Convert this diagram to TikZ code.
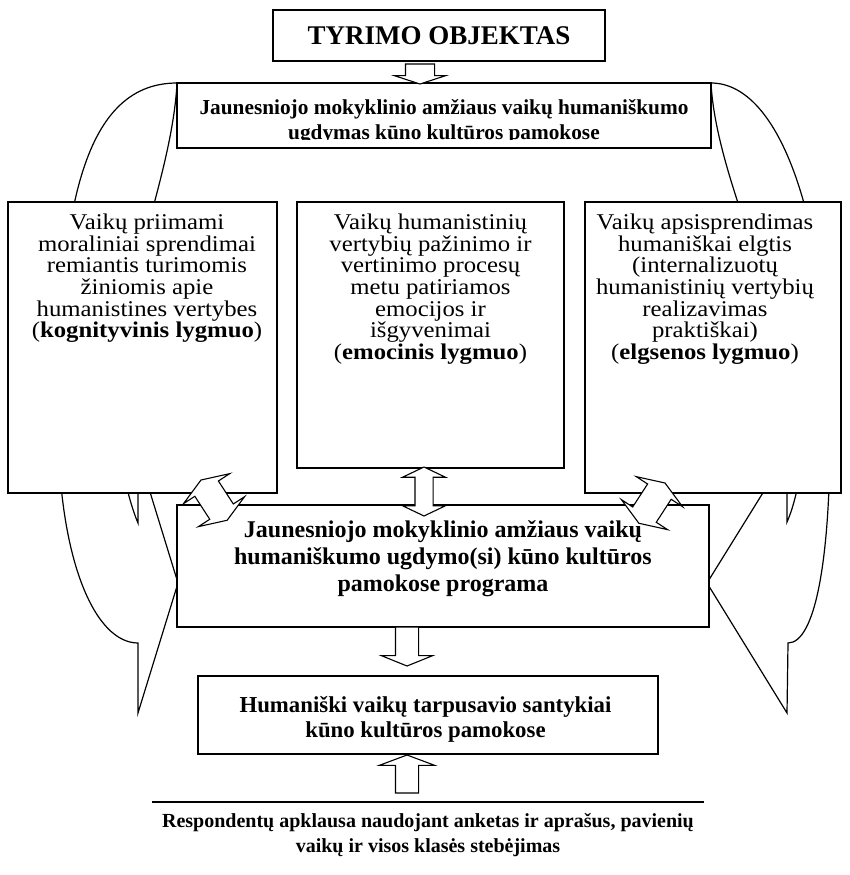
\documentclass[tikz,border=0pt]{standalone}
\usepackage{fontspec}
\setmainfont{Liberation Serif}
\newfontfamily\widefont{Liberation Serif}[FakeStretch=1.1]
\usetikzlibrary{calc,positioning,shapes.arrows}

\begin{document}
\begin{tikzpicture}[x=1pt,y=1pt,
  box/.style={draw,line width=1.4pt,fill=white,inner sep=0pt,outer sep=0pt},
  band/.style={draw,line width=1.2pt,fill=white},
  txt/.style={align=center,inner sep=0pt},
  lvl/.style={txt,font=\widefont\fontsize{22.5}{21.7}\selectfont},
  blk/.style={draw,fill=white,line width=1.1pt,inner xsep=0pt,outer sep=0pt,minimum width=0pt}]
\useasboundingbox (0,0) rectangle (849,-875);

\draw[band] (177,-83) .. controls (80,-83) and (58,-220) .. (58,-420)
  .. controls (58,-560) and (95,-643) .. (138,-643)
  -- (138,-713) -- (178,-583) -- (138,-453) -- (138,-523)
  .. controls (130,-505) and (115,-450) .. (115,-400)
  .. controls (115,-300) and (172,-180) .. (177,-83) -- cycle;
\draw[band] (711,-83) .. controls (780,-83) and (828,-220) .. (830,-420)
  .. controls (831,-560) and (815,-643) .. (788,-643)
  -- (787,-713) -- (707,-583) -- (787,-454) -- (787,-522)
  .. controls (797,-500) and (807,-450) .. (802,-410)
  .. controls (790,-320) and (716,-180) .. (711,-83) -- cycle;

\node[box,minimum width=332,minimum height=51,font=\bfseries\fontsize{27}{30}\selectfont] (title) at (439,-35.5) {TYRIMO OBJEKTAS};
\node[box,minimum width=534,minimum height=65] (top) at (444,-115.5) {};
\node[box,minimum width=269,minimum height=291] (left) at (142.5,-347.5) {};
\node[box,minimum width=267,minimum height=266] (mid) at (430.5,-335) {};
\node[box,minimum width=256,minimum height=291] (right) at (713,-347.5) {};
\node[box,minimum width=532,minimum height=122] (prog) at (443,-566) {};
\node[box,minimum width=460,minimum height=78] (hum) at (428,-715) {};

\begin{scope}
\clip (177,-83) rectangle (711,-139);
\node[txt,font=\bfseries\fontsize{21.3}{25}\selectfont,below=16.5pt of top.north] (toptxt) {Jaunesniojo mokyklinio amžiaus vaikų humaniškumo\\ugdymas kūno kultūros pamokose};
\end{scope}
\node[lvl,below=11.6pt of left.north,xshift=4.5pt] (lefttxt) {Vaikų priimami\\moraliniai sprendimai\\remiantis turimomis\\žiniomis apie\\humanistines vertybes\\(\textbf{kognityvinis lygmuo})};
\node[lvl,below=11.6pt of mid.north] (midtxt) {Vaikų humanistinių\\vertybių pažinimo ir\\vertinimo procesų\\metu patiriamos\\emocijos ir\\išgyvenimai\\(\textbf{emocinis lygmuo})};
\node[lvl,below=11.6pt of right.north,xshift=-8pt] (righttxt) {Vaikų apsisprendimas\\humaniškai elgtis\\(internalizuotų\\humanistinių vertybių\\realizavimas\\praktiškai)\\(\textbf{elgsenos lygmuo})};
\node[txt,font=\bfseries\fontsize{24}{26.7}\selectfont,below=15.8pt of prog.north] (progtxt) {Jaunesniojo mokyklinio amžiaus vaikų\\humaniškumo ugdymo(si) kūno kultūros\\pamokose programa};
\node[txt,font=\bfseries\fontsize{22.8}{25}\selectfont,below=20.6pt of hum.north,xshift=-2.5pt] (humtxt) {Humaniški vaikų tarpusavio santykiai\\kūno kultūros pamokose};

\coordinate (respL) at (152,-802);
\coordinate (respR) at (704,-802);
\coordinate (respM) at (428,-802);
\draw[line width=1.4pt] (respL) -- (respR);
\node[txt,font=\bfseries\fontsize{20}{25}\selectfont,below=11.5pt of respM] (resptxt) {Respondentų apklausa naudojant anketas ir aprašus, pavienių\\vaikų ir visos klasės stebėjimas};

\node[blk,single arrow,rotate=-90,anchor=tip,minimum height=20,inner ysep=14,single arrow head extend=11,single arrow tip angle=144] (a0) at (420,-84) {};
\node[blk,single arrow,rotate=-90,anchor=tip,minimum height=39,inner ysep=11,single arrow head extend=14,single arrow tip angle=136] (a1) at (407,-666) {};
\node[blk,single arrow,rotate=90,anchor=tip,minimum height=38,inner ysep=11,single arrow head extend=16,single arrow tip angle=139] (a2) at (407,-755) {};
\node[blk,double arrow,rotate=90,anchor=tip 1,minimum height=49,inner ysep=8.5,double arrow head extend=12.5,double arrow tip angle=129] (d0) at (424,-467) {};
\node[blk,double arrow,rotate=123,anchor=tip 1,minimum height=48,inner ysep=13.5,double arrow head extend=13.5,double arrow tip angle=139] (d1) at (201,-480) {};
\node[blk,double arrow,rotate=57,anchor=tip 1,minimum height=48,inner ysep=13.5,double arrow head extend=13.5,double arrow tip angle=139] (d2) at (665,-483) {};
\end{tikzpicture}
\end{document}
